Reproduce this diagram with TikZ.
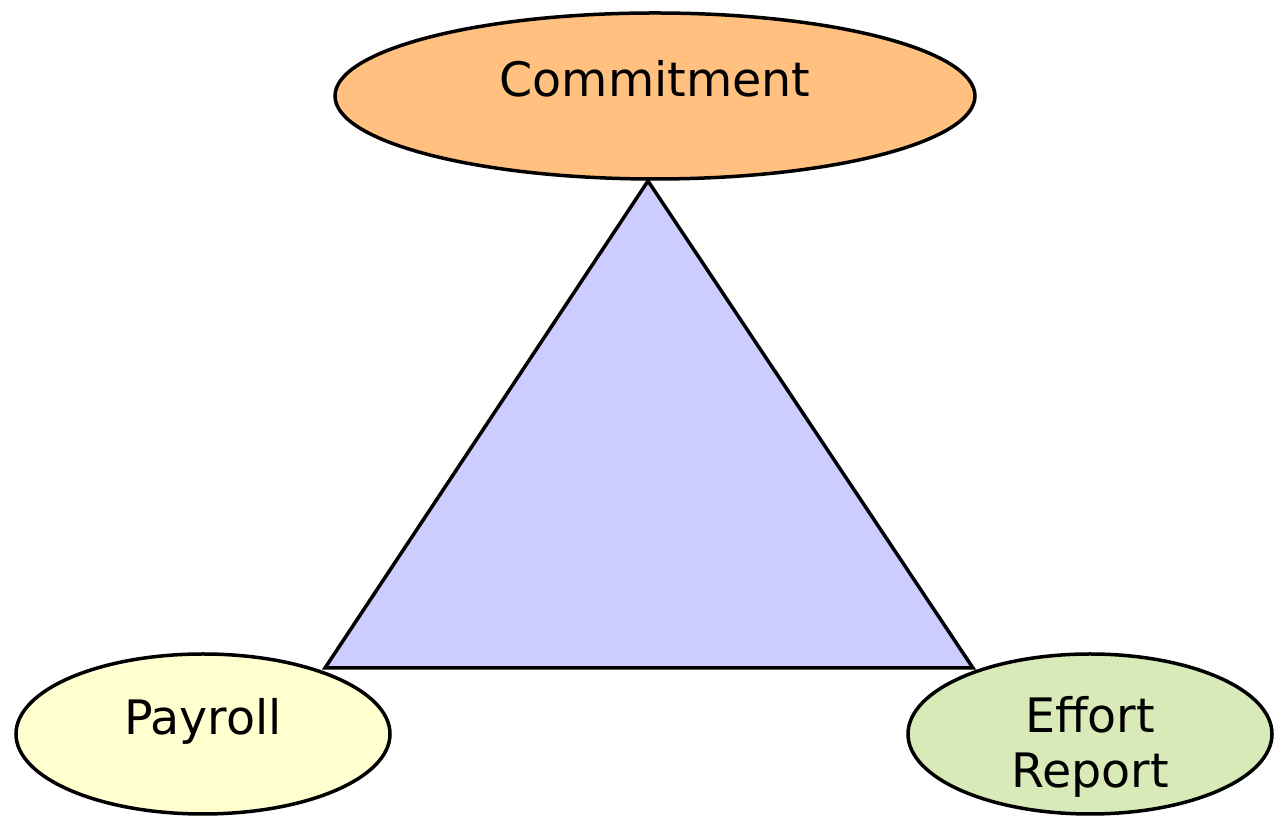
\documentclass[tikz,border=0pt]{standalone}
\usepackage{fontspec}
\setmainfont{DejaVu Sans}
\usetikzlibrary{shapes.geometric}
\definecolor{commitfill}{RGB}{255,192,128}
\definecolor{payfill}{RGB}{255,255,208}
\definecolor{effortfill}{RGB}{216,234,184}
\definecolor{trifill}{RGB}{204,204,255}
\tikzset{
  oval/.style={ellipse, draw=black, line width=3.5pt, inner sep=0pt},
  lbl/.style={font=\fontsize{47.5}{55}\selectfont, text=black, inner sep=0pt, align=center},
  edge/.style={draw=black, line width=3.5pt, line join=miter}
}
\begin{document}
\begin{tikzpicture}[x=1pt,y=1pt]
\useasboundingbox (0,0) rectangle (1274,818);
% corners of the triangle
\coordinate (top) at (648,637);
\coordinate (left) at (325,150);
\coordinate (right) at (973,150);
\filldraw[edge, fill=trifill] (top) -- (left) -- (right) -- cycle;
% the three ovals
\node[oval, fill=commitfill, minimum width=640pt, minimum height=166pt] (commit) at (655,722) {};
\node[oval, fill=payfill, minimum width=374pt, minimum height=160pt] (payroll) at (203,84) {};
\node[oval, fill=effortfill, minimum width=364pt, minimum height=160pt] (effort) at (1090,84) {};
% labels
\node[lbl, anchor=base] (commitlbl) at ([yshift=-1pt]commit.center) {Commitment};
\node[lbl, anchor=base] (paylbl) at ([yshift=-1pt]payroll.center) {Payroll};
\node[lbl] (effortlbl) at ([yshift=-13pt]effort.center) {Effort\\Report};
\end{tikzpicture}
\end{document}
